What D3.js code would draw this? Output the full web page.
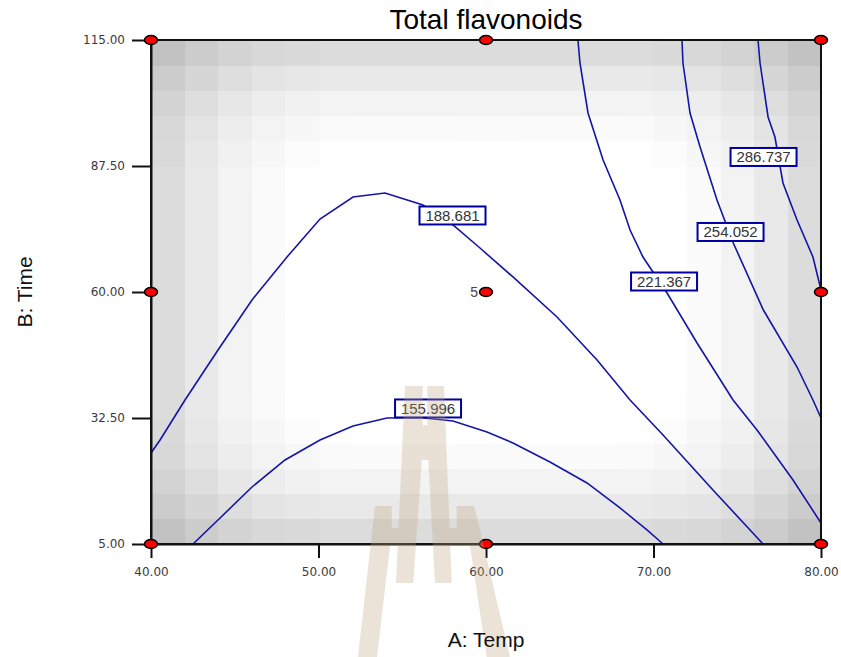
<!DOCTYPE html>
<html>
<head>
<meta charset="utf-8">
<script src="https://cdn.jsdelivr.net/npm/d3@7"></script>
<style>
  body { margin: 0; background: #fff; }
  svg text { font-family: "Liberation Sans", Arial, sans-serif; }
</style>
</head>
<body>
<div class="chart"></div>
<script>
// axis ticks
const tempTicks = [40, 50, 60, 70, 80];
const timeTicks = [5, 32.5, 60, 87.5, 115];

// design points (center run replicated 5 times)
const designTemp = [40, 40, 40, 60, 60, 60, 80, 80, 80];
const designTime = [5, 60, 115, 5, 60, 115, 5, 60, 115];
const designReps = [1, 1, 1, 1, 5, 1, 1, 1, 1];

// contour levels and their polylines [temp, time]
const levels = [155.996, 188.681, 221.367, 254.052, 286.737];
const line156 = [[42.51,5],[44.0,10.24],[46.03,17.44],[48.0,23.34],[50.09,27.7],[52.06,30.76],[54.09,32.5],[56.06,32.6],[58.03,31.85],[60.06,29.45],[61.61,27.05],[63.82,22.9],[66.03,18.32],[68.0,12.86],[69.61,8.06],[70.57,5]];
const line189 = [[40,24.86],[40.54,27.7],[42.03,36.43],[44.0,47.34],[46.03,58.26],[48.12,67.64],[50.09,75.93],[52.06,80.74],[53.97,81.61],[56.24,78.99],[58.03,74.62],[59.64,69.6],[61.61,63.28],[64.24,54.55],[66.63,45.16],[68.6,36.43],[70.57,28.79],[73.55,16.79],[76.54,5]];
const line221 = [[65.49,115],[65.61,109.98],[66.09,99.07],[66.99,88.81],[68.0,80.08],[68.6,73.53],[69.37,67.64],[69.97,64.37],[70.81,59.78],[72.6,48.87],[74.75,36.43],[76.18,29.89],[78.33,18.97],[80,9.59]];
const line254 = [[71.7,115],[71.76,109.98],[72.18,99.07],[72.78,91.65],[73.79,80.08],[74.77,70.63],[76.56,56.07],[78.57,43.63],[79.52,36.43],[80,32.5]];
const line287 = [[76.24,115],[76.36,109.98],[76.84,98.2],[77.25,93.83],[77.73,83.79],[78.57,75.72],[79.52,67.64],[80,60.44]];

// label positions
const labelTemp = [56.54, 58.0, 70.63, 74.6, 76.57];
const labelTime = [34.58, 76.7, 62.29, 73.1, 89.47];

const W = 841, H = 657;
const margin = {top: 40, right: 20, bottom: 113, left: 151};
const tickFont = '"DejaVu Sans", Verdana, sans-serif';

const svg = d3.select('.chart')
  .append('svg')
    .attr('width', W)
    .attr('height', H);

const x = d3.scaleLinear().domain([40, 80]).range([margin.left, W - margin.right]);
const y = d3.scaleLinear().domain([5, 115]).range([H - margin.bottom, margin.top]);

// --- background shading: std error of a quadratic fit on the design ---
const runs = [];
designTemp.forEach((T, i) => {
  for (let k = 0; k < designReps[i]; k++) runs.push([(T - 60) / 20, (designTime[i] - 60) / 55]);
});
const terms = (a, b) => [1, a, b, a * b, a * a, b * b];
const p = 6;
const XtX = d3.range(p).map(() => d3.range(p).map(() => 0));
runs.forEach(([a, b]) => {
  const f = terms(a, b);
  for (let r = 0; r < p; r++) for (let c = 0; c < p; c++) XtX[r][c] += f[r] * f[c];
});
// gauss-jordan inverse
const inv = (m) => {
  const n = m.length;
  const A = m.map((row, i) => row.concat(d3.range(n).map(j => (i === j ? 1 : 0))));
  for (let i = 0; i < n; i++) {
    let piv = i;
    for (let r = i + 1; r < n; r++) if (Math.abs(A[r][i]) > Math.abs(A[piv][i])) piv = r;
    [A[i], A[piv]] = [A[piv], A[i]];
    const d = A[i][i];
    for (let c = 0; c < 2 * n; c++) A[i][c] /= d;
    for (let r = 0; r < n; r++) {
      if (r === i) continue;
      const f = A[r][i];
      for (let c = 0; c < 2 * n; c++) A[r][c] -= f * A[i][c];
    }
  }
  return A.map(row => row.slice(n));
};
const XtXi = inv(XtX);

const nCells = 20;
const cells = [];
for (let i = 0; i < nCells; i++) {
  for (let j = 0; j < nCells; j++) {
    const a = -1 + (i + 0.5) * 2 / nCells;
    const b = -1 + (j + 0.5) * 2 / nCells;
    const f = terms(a, b);
    let v = 0;
    for (let r = 0; r < p; r++) for (let c = 0; c < p; c++) v += f[r] * XtXi[r][c] * f[c];
    cells.push({
      t0: 40 + i * 40 / nCells, t1: 40 + (i + 1) * 40 / nCells,
      h0: 5 + j * 110 / nCells, h1: 5 + (j + 1) * 110 / nCells,
      se: Math.sqrt(v)
    });
  }
}
const [seMin, seMax] = d3.extent(cells, d => d.se);
const gray = d3.scaleLinear()
  .domain([seMin + 0.07 * (seMax - seMin), seMax])
  .range(['#ffffff', '#c2c2c2'])
  .clamp(true);

svg.append('g')
  .selectAll('rect')
  .data(cells)
  .enter().append('rect')
    .attr('x', d => x(d.t0))
    .attr('y', d => y(d.h1))
    .attr('width', d => x(d.t1) - x(d.t0) + 0.5)
    .attr('height', d => y(d.h0) - y(d.h1) + 0.5)
    .attr('fill', d => gray(d.se))
    .attr('shape-rendering', 'crispEdges');

// --- contour lines ---
const contourLines = [line156, line189, line221, line254, line287];
const line = d3.line().x(d => x(d[0])).y(d => y(d[1]));

svg.append('g')
  .selectAll('path')
  .data(contourLines)
  .enter().append('path')
    .attr('d', line)
    .attr('fill', 'none')
    .attr('stroke', '#1414a6')
    .attr('stroke-width', 1.6);

// labels
const labels = svg.append('g')
  .selectAll('g')
  .data(levels)
  .enter().append('g')
    .attr('transform', (d, i) => `translate(${x(labelTemp[i])}, ${y(labelTime[i])})`);

labels.append('rect')
  .attr('x', -33).attr('y', -9)
  .attr('width', 66).attr('height', 18)
  .attr('fill', '#fff')
  .attr('stroke', '#0000a0')
  .attr('stroke-width', 2);

labels.append('text')
  .attr('text-anchor', 'middle')
  .attr('y', 5.5)
  .attr('font-size', 15)
  .attr('fill', '#333')
  .text(d => d3.format('.3f')(d));

// --- axes ---
const xAxis = d3.axisBottom(x)
  .tickValues(tempTicks)
  .tickSize(14)
  .tickSizeOuter(0)
  .tickPadding(9)
  .tickFormat(d3.format('.2f'));
const yAxis = d3.axisLeft(y)
  .tickValues(timeTicks)
  .tickSize(19)
  .tickSizeOuter(0)
  .tickPadding(7)
  .tickFormat(d3.format('.2f'));

const xAxisGroup = svg.append('g')
  .attr('transform', `translate(0, ${H - margin.bottom})`)
  .call(xAxis);
const yAxisGroup = svg.append('g')
  .attr('transform', `translate(${margin.left}, 0)`)
  .call(yAxis);

[xAxisGroup, yAxisGroup].forEach(g => {
  g.attr('font-family', tickFont).attr('font-size', 12);
  g.selectAll('line').attr('stroke', '#111').attr('stroke-width', 2);
  g.select('.domain').attr('stroke', '#111').attr('stroke-width', 2);
  g.selectAll('text')
    .attr('fill', '#3a3a3a')
    .style('font-family', tickFont)
    .style('font-size', '12px');
});

// frame
svg.append('rect')
  .attr('x', x(40)).attr('y', y(115))
  .attr('width', x(80) - x(40))
  .attr('height', y(5) - y(115))
  .attr('fill', 'none')
  .attr('stroke', '#111')
  .attr('stroke-width', 2);

// design points
const pts = designTemp.map((T, i) => ({temp: T, time: designTime[i], reps: designReps[i]}));
svg.append('g')
  .selectAll('ellipse')
  .data(pts)
  .enter().append('ellipse')
    .attr('cx', d => x(d.temp))
    .attr('cy', d => y(d.time))
    .attr('rx', 6.5)
    .attr('ry', 4.5)
    .attr('fill', '#ff0000')
    .attr('stroke', '#000')
    .attr('stroke-width', 1.5);

svg.append('g')
  .selectAll('text')
  .data(pts.filter(d => d.reps > 1))
  .enter().append('text')
    .attr('x', d => x(d.temp) - 8)
    .attr('y', d => y(d.time) + 5)
    .attr('text-anchor', 'end')
    .attr('font-size', 14)
    .attr('fill', '#444')
    .text(d => d.reps);

// watermark (decoration)
const mark = svg.append('g')
  .attr('opacity', 0.3)
  .attr('fill', '#bfa57e');
const markShapes = [
  'M405,386 L422.7,386 L422.7,425 L427.3,425 L427.3,386 L444,386 L451.7,583 L435,583 L428.3,460 L421.7,460 L413.3,583 L396,583 Z',
  'M375,506 L391.7,506 L391.7,528 L403,528 L402.5,546 L390,546 L377,657 L358,657 Z',
  'M456.7,506 L474.3,506 L510,657 L486.7,657 L470,546 L447.5,546 L446.7,528 L456.7,528 Z'
];
mark.selectAll('path')
  .data(markShapes)
  .enter().append('path')
    .attr('d', d => d);

// titles
svg.append('text')
  .attr('x', (x(40) + x(80)) / 2)
  .attr('y', 29)
  .attr('text-anchor', 'middle')
  .attr('font-size', 28)
  .attr('fill', '#000')
  .text('Total flavonoids');

svg.append('text')
  .attr('x', (x(40) + x(80)) / 2)
  .attr('y', 647)
  .attr('text-anchor', 'middle')
  .attr('font-size', 21)
  .attr('fill', '#111')
  .text('A: Temp');

svg.append('text')
  .attr('transform', `translate(32, ${y(60)}) rotate(-90)`)
  .attr('text-anchor', 'middle')
  .attr('font-size', 21)
  .attr('fill', '#111')
  .text('B: Time');
</script>
</body>
</html>
